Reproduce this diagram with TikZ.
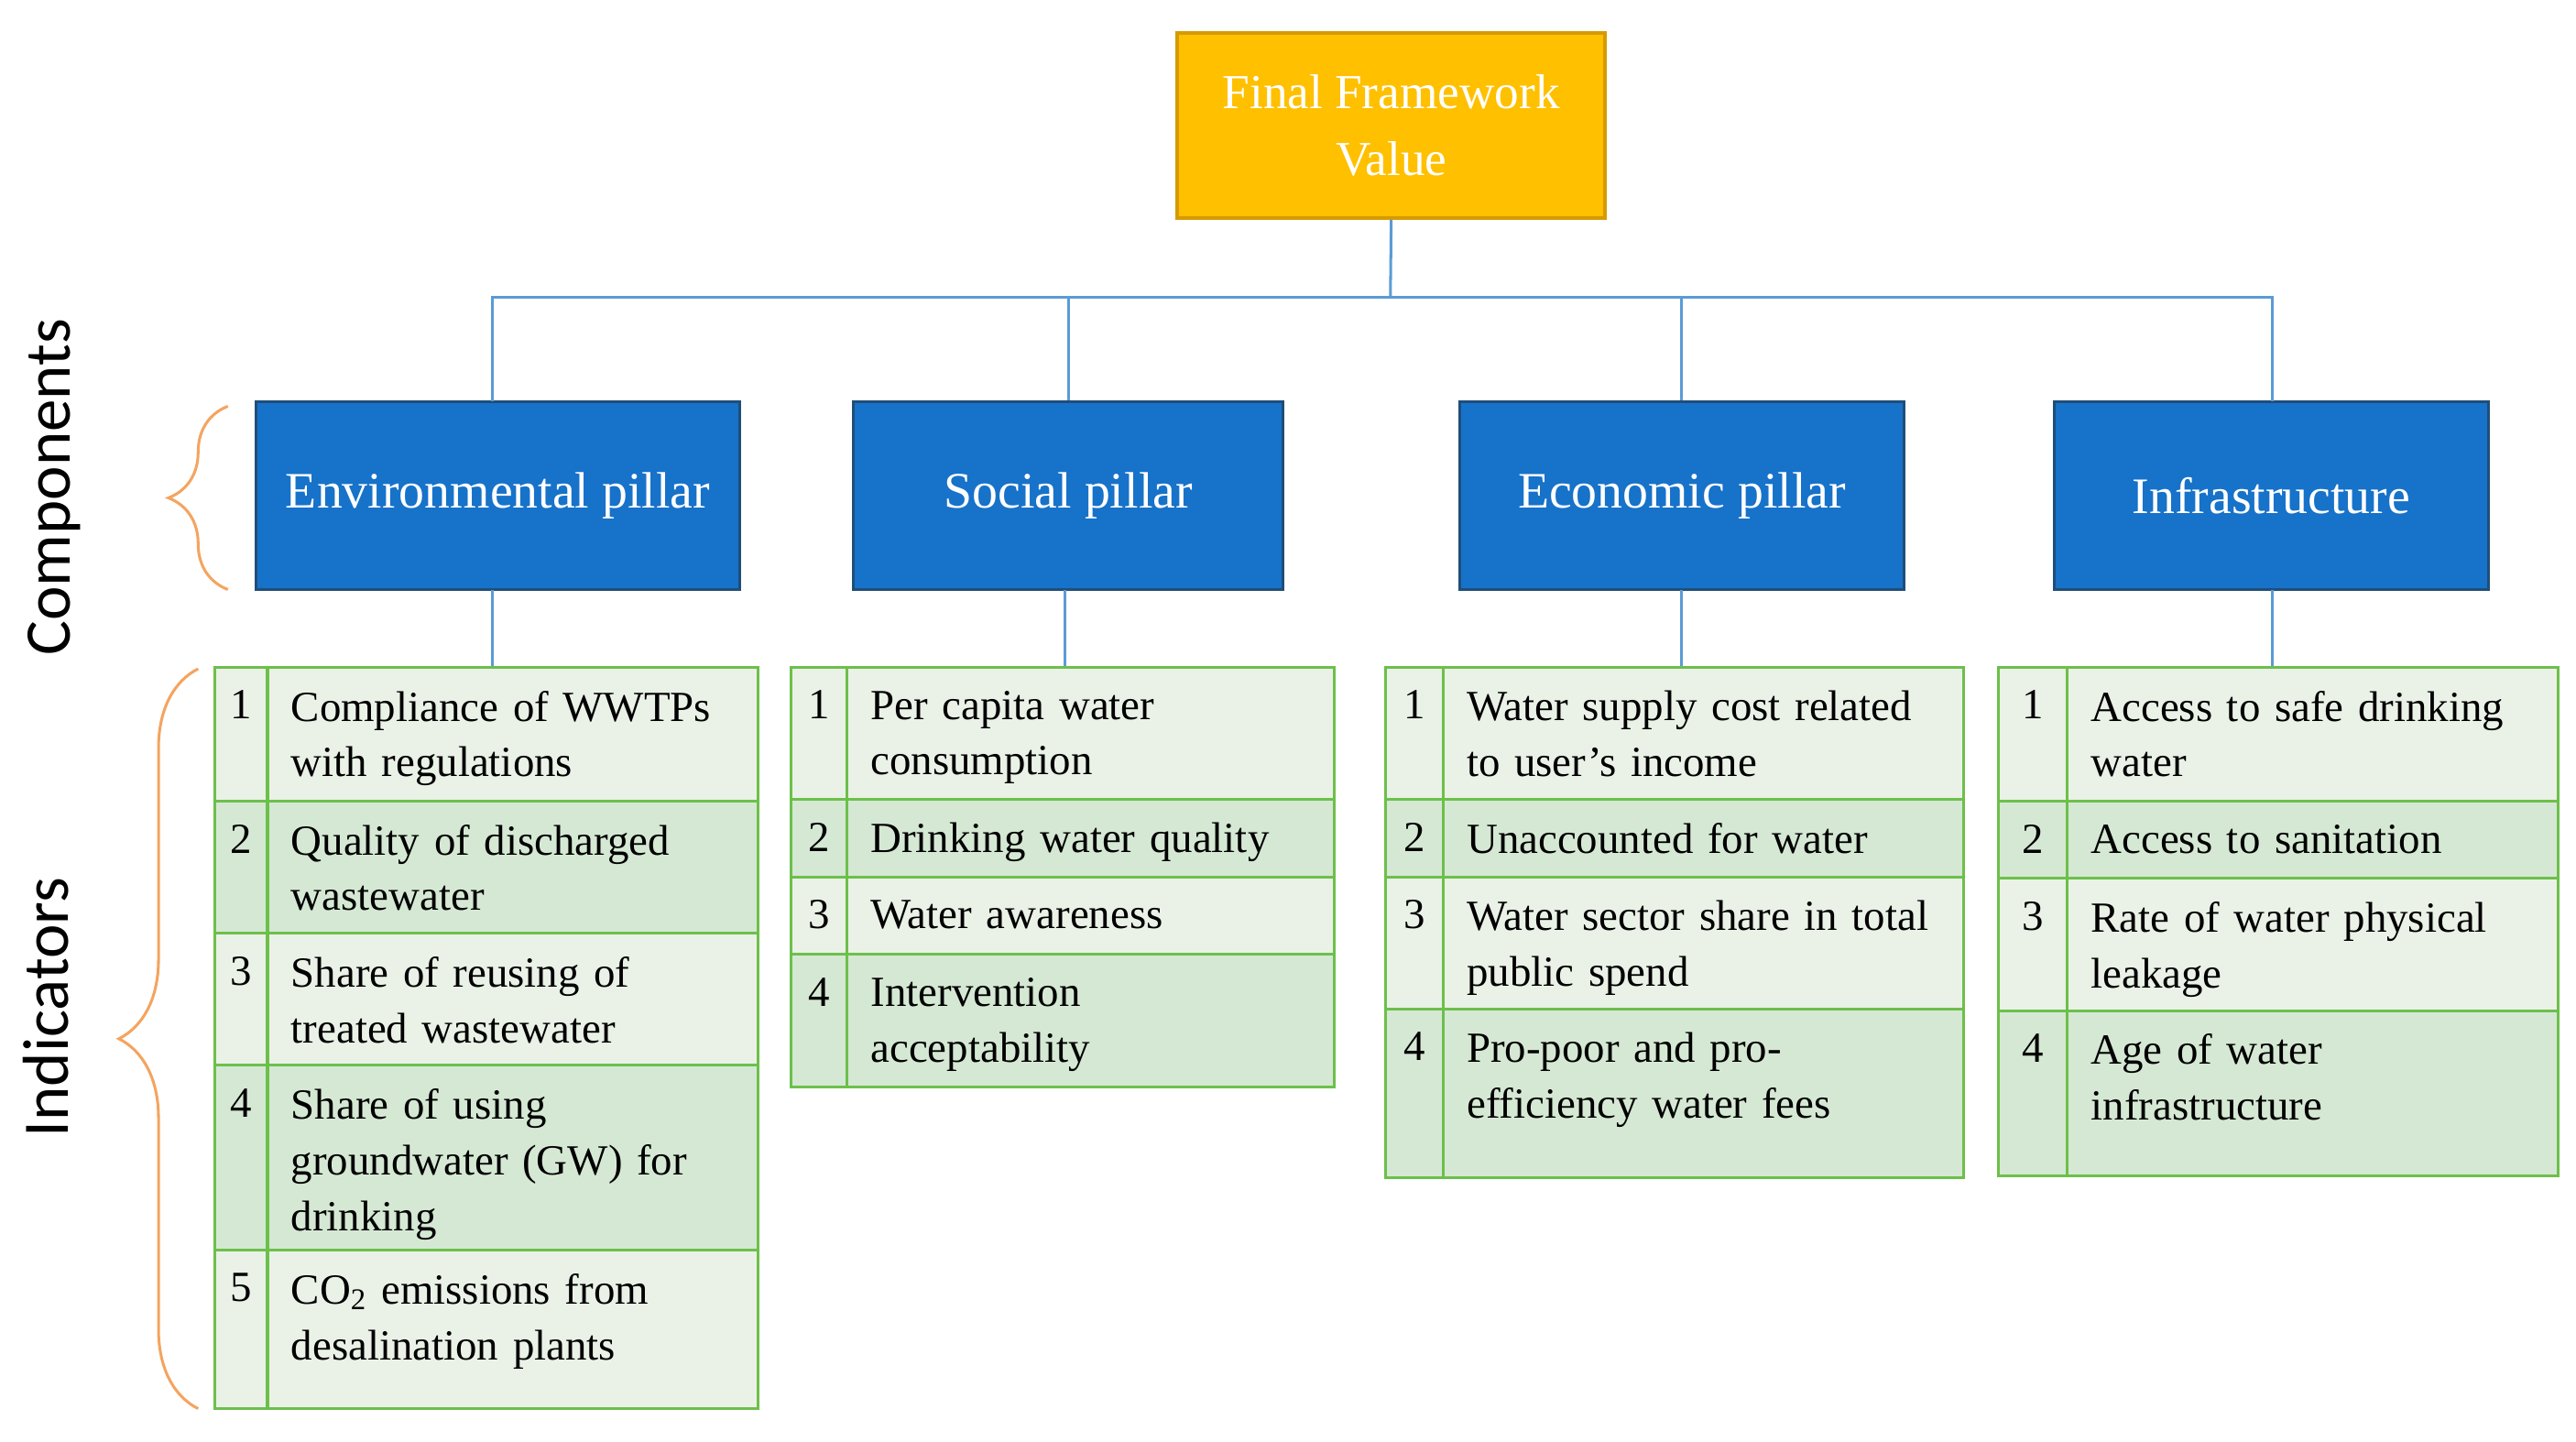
\documentclass[tikz,border=0pt]{standalone}
\usepackage{fontspec}
\setmainfont{Liberation Serif}
\newfontfamily\lblfont{Carlito}
\usetikzlibrary{decorations.pathreplacing}
\definecolor{gold}{HTML}{FFC000}
\definecolor{goldb}{HTML}{D69A00}
\definecolor{pblue}{HTML}{1772C9}
\definecolor{pblueb}{HTML}{1F4E79}
\definecolor{lblue}{HTML}{5B9BD5}
\definecolor{gb}{HTML}{6CC04A}
\definecolor{gl}{HTML}{EAF1E7}
\definecolor{gd}{HTML}{D5E8D4}
\definecolor{br}{HTML}{F4A460}
\tikzset{
 pillar/.style={draw=pblueb,line width=1.2pt,fill=pblue,text=white,font=\fontsize{22}{26}\selectfont},
 conn/.style={draw=lblue,line width=1.2pt},
 cell/.style={draw=gb,line width=1.2pt},
 itm/.style={anchor=north west,align=left,inner sep=0pt,font=\fontsize{18.5}{24}\selectfont},
 num/.style={anchor=north,inner sep=0pt,font=\fontsize{18.5}{24}\selectfont},
 brc/.style={draw=br,line width=1.2pt,decorate},
 lbl/.style={font=\lblfont\fontsize{28}{32}\selectfont,rotate=90}
}
% \tabrow{x0}{xn}{x1}{y0}{y1}{num}{text}{fill}{name}
\newcommand{\tabrow}[9]{%
 \path[cell,fill=#8] (#1,-#4) rectangle (#3,-#5);
 \draw[cell] (#2,-#4) -- (#2,-#5);
 \node[num] (#9n) at ({(#1+#2)/2},-#4-14) {#6};
 \node[itm,text width={(#3-#2-6)*0.025cm}] (#9t) at (#2+14,-#4-14) {#7};
}
\begin{document}
\begin{tikzpicture}[x=0.025cm,y=0.025cm]
\useasboundingbox (0,0) rectangle (1560,-873);
\node[draw=goldb,line width=1.5pt,fill=gold,text=white,minimum width=259*0.025cm,minimum height=112*0.025cm,align=center,font=\fontsize{21}{29}\selectfont] (top) at (842.5,-76) {Final Framework\\Value};
\node[pillar,minimum width=293*0.025cm,minimum height=114*0.025cm] (env) at (301.5,-300) {Environmental pillar};
\node[pillar,minimum width=260*0.025cm,minimum height=114*0.025cm] (soc) at (647,-300) {Social pillar};
\node[pillar,minimum width=269*0.025cm,minimum height=114*0.025cm] (eco) at (1018.5,-300) {Economic pillar};
\node[pillar,minimum width=263*0.025cm,minimum height=114*0.025cm] (inf) at (1375.5,-300) {Infrastructure};
\coordinate (hub) at (842,-180);
\draw[conn] (top.south) -- (hub);
\draw[conn] (hub) -| (298,-243);
\draw[conn] (hub) -| (soc.north);
\draw[conn] (hub) -| (eco.north);
\draw[conn] (hub) -| (1376,-243);
\draw[conn] (298,-357) -- (298,-404);
\draw[conn] (645,-357) -- (645,-404);
\draw[conn] (1018,-357) -- (1018,-404);
\draw[conn] (1376,-357) -- (1376,-404);
% Environmental
\tabrow{130}{162}{459}{404}{485}{1}{Compliance of WWTPs\\with regulations}{gl}{e1}
\tabrow{130}{162}{459}{485}{565}{2}{Quality of discharged\\wastewater}{gd}{e2}
\tabrow{130}{162}{459}{565}{645}{3}{Share of reusing of\\treated wastewater}{gl}{e3}
\tabrow{130}{162}{459}{645}{757}{4}{Share of using\\groundwater (GW) for\\drinking}{gd}{e4}
\tabrow{130}{162}{459}{757}{853}{5}{CO\textsubscript{2} emissions from\\desalination plants}{gl}{e5}
% Social
\tabrow{479}{513}{808}{404}{484}{1}{Per capita water\\consumption}{gl}{s1}
\tabrow{479}{513}{808}{484}{531}{2}{Drinking water quality}{gd}{s2}
\tabrow{479}{513}{808}{531}{578}{3}{Water awareness}{gl}{s3}
\tabrow{479}{513}{808}{578}{658}{4}{Intervention\\acceptability}{gd}{s4}
% Economic
\tabrow{839}{874}{1189}{404}{484}{1}{Water supply cost related\\to user’s income}{gl}{c1}
\tabrow{839}{874}{1189}{484}{531}{2}{Unaccounted for water}{gd}{c2}
\tabrow{839}{874}{1189}{531}{611}{3}{Water sector share in total\\public spend}{gl}{c3}
\tabrow{839}{874}{1189}{611}{713}{4}{Pro-poor and pro-\\efficiency water fees}{gd}{c4}
% Infrastructure
\tabrow{1210}{1252}{1549}{404}{485}{1}{Access to safe drinking\\water}{gl}{i1}
\tabrow{1210}{1252}{1549}{485}{532}{2}{Access to sanitation}{gd}{i2}
\tabrow{1210}{1252}{1549}{532}{612}{3}{Rate of water physical\\leakage}{gl}{i3}
\tabrow{1210}{1252}{1549}{612}{712}{4}{Age of water\\infrastructure}{gd}{i4}
% braces
\draw[brc,decoration={brace,amplitude=0.9cm}] (138,-357) -- (138,-246);
\draw[brc,decoration={brace,amplitude=1.2cm}] (120,-853) -- (120,-405);
\node[lbl] (lc) at (33,-295) {Components};
\node[lbl] (li) at (28,-610) {Indicators};
\end{tikzpicture}
\end{document}
